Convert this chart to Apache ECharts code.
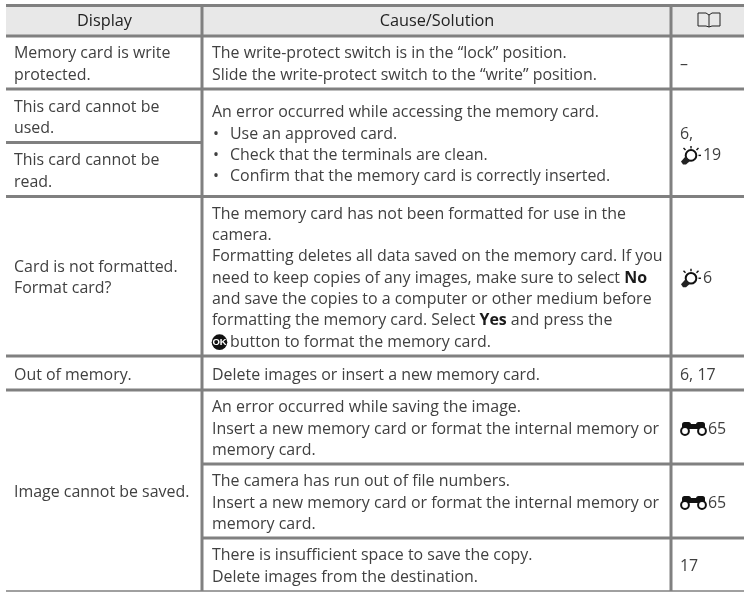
<!DOCTYPE html>
<html>
<head>
<meta charset="utf-8">
<style>html,body{margin:0;padding:0;background:#fff}</style>
<script src="https://cdn.jsdelivr.net/npm/echarts@6/dist/echarts.min.js"></script>
</head>
<body>
<div id="main" style="width:744px;height:592px"></div>
<script>
// table content
const headers = ['Display', 'Cause/Solution']
const displayText = [
  ['Memory card is write', 'protected.'],
  ['This card cannot be', 'used.'],
  ['This card cannot be', 'read.'],
  ['Card is not formatted.', 'Format card?'],
  ['Out of memory.'],
  ['Image cannot be saved.']
]
const causeText = [
  ['The write-protect switch is in the “lock” position.', 'Slide the write-protect switch to the “write” position.'],
  ['An error occurred while accessing the memory card.', '• Use an approved card.', '• Check that the terminals are clean.', '• Confirm that the memory card is correctly inserted.'],
  ['The memory card has not been formatted for use in the', 'camera.', 'Formatting deletes all data saved on the memory card. If you', 'need to keep copies of any images, make sure to select {b|No}', 'and save the copies to a computer or other medium before', 'formatting the memory card. Select {b|Yes} and press the', '@ok button to format the memory card.'],
  ['Delete images or insert a new memory card.'],
  ['An error occurred while saving the image.', 'Insert a new memory card or format the internal memory or', 'memory card.'],
  ['The camera has run out of file numbers.', 'Insert a new memory card or format the internal memory or', 'memory card.'],
  ['There is insufficient space to save the copy.', 'Delete images from the destination.']
]
const refText = [
  ['–'],
  ['6,', '@bulb 19'],
  ['@bulb 6'],
  ['6, 17'],
  ['@bino 65'],
  ['@bino 65'],
  ['17']
]

// layout, in page pixels
const columnX = [6, 202, 671, 744]
const headerTop = 5.5
const displayEdges = [36, 89, 142.5, 196.5, 356, 390, 591]
const causeEdges = [36, 89, 196.5, 356, 390, 464, 538, 591]
const lineHeight = 21.3
const fontFamily = '"Open Sans", "Noto Sans", sans-serif'
const fontSize = 15.95
const headerSize = 16.3
const textColor = '#404040'
const ruleColor = '#808080'
const iconGap = { ok: 18, bulb: 23, bino: 28 }

// rules: [x0, y0, x1, y1, width]
const rules = [[columnX[0], headerTop, 744, headerTop, 3]]
causeEdges.forEach((y, i) => {
  const w = i === causeEdges.length - 1 ? 1.5 : 3
  rules.push([columnX[1], y, 744, y, w])
})
displayEdges.forEach((y, i) => {
  const w = i === displayEdges.length - 1 ? 1.5 : 3
  rules.push([columnX[0], y, columnX[1], y, w])
})
rules.push([columnX[1], headerTop, columnX[1], 591, 3])
rules.push([columnX[2], headerTop, columnX[2], 591, 3])

// flatten cells to one record per text line
const textRows = []
const iconRows = []
function addCell(lines, x, top, bottom) {
  const mid = (top + bottom) / 2 + 2
  lines.forEach((line, i) => {
    const y = mid + (i - (lines.length - 1) / 2) * lineHeight
    let tx = x
    let s = line
    if (s.startsWith('• ')) {
      textRows.push([x + 1, y, '•'])
      tx = x + 18
      s = s.slice(2)
    } else if (s.startsWith('@')) {
      const name = s.slice(1, s.indexOf(' '))
      iconRows.push([x, y, name])
      tx = x + iconGap[name]
      s = s.slice(s.indexOf(' ') + 1)
    }
    textRows.push([tx, y, s])
  })
}
displayText.forEach((lines, i) => addCell(lines, 14, displayEdges[i], displayEdges[i + 1]))
causeText.forEach((lines, i) => addCell(lines, 212, causeEdges[i], causeEdges[i + 1]))
refText.forEach((lines, i) => addCell(lines, 680, causeEdges[i], causeEdges[i + 1]))

function renderIcon(params, api) {
  const p = api.coord([api.value(0), api.value(1)])
  const x = p[0]
  const y = p[1]
  const name = iconRows[params.dataIndex][2]
  const solid = { fill: '#111' }
  const ray = { stroke: '#111', lineWidth: 1.4 }
  let children = []
  if (name === 'ok') {
    children = [
      { type: 'circle', shape: { cx: x + 7.5, cy: y, r: 7.8 }, style: solid },
      { type: 'text', style: { x: x + 7.5, y: y, text: 'OK', align: 'center', verticalAlign: 'middle', fill: '#fff', font: 'bold 9.5px "Liberation Sans"' } }
    ]
  } else if (name === 'bulb') {
    const cx = x + 11
    const cy = y
    children = [
      { type: 'circle', shape: { cx: cx, cy: cy, r: 5.3 }, style: { stroke: '#111', fill: '#fff', lineWidth: 2 } },
      { type: 'polygon', shape: { points: [[cx - 5.5, cy + 1], [cx - 1, cy + 5.5], [cx - 5, cy + 9], [cx - 8, cy + 9], [cx - 10, cy + 6]] }, style: { fill: '#222' } },
      { type: 'line', shape: { x1: cx, y1: cy - 9.5, x2: cx, y2: cy - 7 }, style: ray },
      { type: 'line', shape: { x1: cx - 7.5, y1: cy - 7.5, x2: cx - 5.5, y2: cy - 5.5 }, style: ray },
      { type: 'line', shape: { x1: cx + 7.5, y1: cy - 7.5, x2: cx + 5.5, y2: cy - 5.5 }, style: ray },
      { type: 'line', shape: { x1: cx + 7.5, y1: cy, x2: cx + 10, y2: cy }, style: ray }
    ]
  } else {
    children = [
      { type: 'rect', shape: { x: x + 2, y: y - 7, width: 9, height: 7, r: 2.5 }, style: solid },
      { type: 'rect', shape: { x: x + 16, y: y - 7, width: 9, height: 7, r: 2.5 }, style: solid },
      { type: 'rect', shape: { x: x + 8, y: y - 5, width: 11, height: 5 }, style: solid },
      { type: 'circle', shape: { cx: x + 5, cy: y + 2, r: 3.9 }, style: { stroke: '#111', fill: '#fff', lineWidth: 2 } },
      { type: 'circle', shape: { cx: x + 22, cy: y + 2, r: 3.9 }, style: { stroke: '#111', fill: '#fff', lineWidth: 2 } }
    ]
  }
  return { type: 'group', children: children }
}

const chart = echarts.init(document.getElementById('main'), null, { renderer: 'canvas' })
chart.setOption({
  animation: false,
  grid: { left: 0, right: 0, top: 0, bottom: 0 },
  xAxis: { type: 'value', min: 0, max: 744, show: false },
  yAxis: { type: 'value', min: 0, max: 592, inverse: true, show: false },
  series: [
    {
      // header band
      type: 'custom',
      silent: true,
      z: 1,
      data: [[columnX[0], headerTop, 744, causeEdges[0]]],
      renderItem(params, api) {
        const a = api.coord([api.value(0), api.value(1)])
        const b = api.coord([api.value(2), api.value(3)])
        return { type: 'rect', shape: { x: a[0], y: a[1], width: b[0] - a[0], height: b[1] - a[1] }, style: { fill: '#e8e8e8' } }
      }
    },
    {
      type: 'custom',
      silent: true,
      z: 2,
      data: rules,
      renderItem(params, api) {
        const a = api.coord([api.value(0), api.value(1)])
        const b = api.coord([api.value(2), api.value(3)])
        return { type: 'line', shape: { x1: a[0], y1: a[1], x2: b[0], y2: b[1] }, style: { stroke: ruleColor, lineWidth: api.value(4) } }
      }
    },
    {
      type: 'custom',
      silent: true,
      z: 3,
      data: textRows.map(r => [r[0], r[1]]),
      renderItem(params, api) {
        const a = api.coord([api.value(0), api.value(1)])
        return {
          type: 'text',
          style: {
            x: a[0], y: a[1], text: textRows[params.dataIndex][2],
            verticalAlign: 'middle', fill: textColor, fontFamily: fontFamily, fontSize: fontSize,
            rich: { b: { fontWeight: 'bold', fontFamily: fontFamily, fontSize: fontSize, fill: '#1a1a1a' } }
          }
        }
      }
    },
    {
      // column headings
      type: 'custom',
      silent: true,
      z: 3,
      data: [[104.5, 21], [437, 21]],
      renderItem(params, api) {
        const a = api.coord([api.value(0), api.value(1)])
        return {
          type: 'text',
          style: { x: a[0], y: a[1], text: headers[params.dataIndex], align: 'center', verticalAlign: 'middle', fill: '#222', fontFamily: fontFamily, fontSize: headerSize }
        }
      }
    },
    {
      // book icon in the header
      type: 'custom',
      silent: true,
      z: 3,
      data: [[709, 20]],
      renderItem(params, api) {
        const a = api.coord([api.value(0), api.value(1)])
        const s = { stroke: '#222', fill: null, lineWidth: 1 }
        return {
          type: 'group',
          children: [
            { type: 'polyline', shape: { points: [[a[0], a[1] + 7], [a[0] - 3, a[1] + 6], [a[0] - 11, a[1] + 6], [a[0] - 11, a[1] - 7], [a[0] - 3, a[1] - 7], [a[0], a[1] - 5], [a[0] + 3, a[1] - 7], [a[0] + 11, a[1] - 7], [a[0] + 11, a[1] + 6], [a[0] + 3, a[1] + 6], [a[0], a[1] + 7]] }, style: s },
            { type: 'line', shape: { x1: a[0], y1: a[1] - 5, x2: a[0], y2: a[1] + 7 }, style: s }
          ]
        }
      }
    },
    {
      type: 'custom',
      silent: true,
      z: 4,
      data: iconRows.map(r => [r[0], r[1]]),
      renderItem: renderIcon
    }
  ]
})
</script>
</body>
</html>
